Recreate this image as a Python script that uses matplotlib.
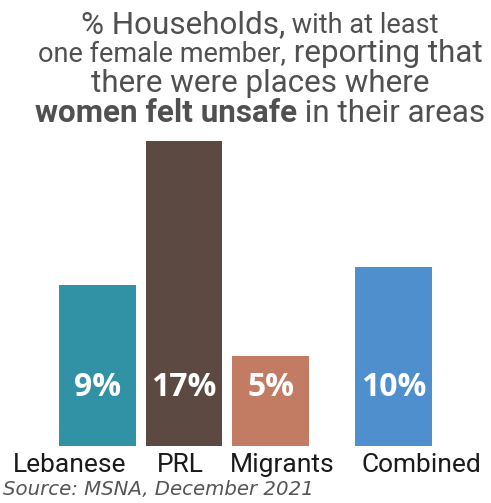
import matplotlib
matplotlib.use("Agg")
import matplotlib.pyplot as plt

categories = ["Lebanese", "PRL", "Migrants", "Combined"]
values = [9, 17, 5, 10]
value_labels = ["9%", "17%", "5%", "10%"]
colors = ["#3191A5", "#5C4A42", "#C27C63", "#4F8FCD"]
source_text = "Source: MSNA, December 2021"

# layout (not data)
bar_x = [0, 1, 2, 3.42]
label_x = [-0.319, 0.954, 2.133, 3.74]
W, H = 491, 503
fig = plt.figure(figsize=(W / 100, H / 100), dpi=100)
unit_px = 86.5
left_px = 97.5
ax_bottom_px = 446
ax_top_px = 135
ax = fig.add_axes([0, (H - ax_bottom_px) / H, 1, (ax_bottom_px - ax_top_px) / H])
ax.set_xlim(-left_px / unit_px, (W - left_px) / unit_px)
ypx = 305 / 17.0
ax.set_ylim(0, (ax_bottom_px - ax_top_px) / ypx)
ax.axis("off")

ax.bar(bar_x, values, width=0.89, color=colors)
for x, lab in zip(bar_x, value_labels):
    ax.text(x, 58 / ypx, lab, ha="center", va="center", color="white",
            fontsize=23, fontweight="bold", family="Open Sans")

for lx, cat in zip(label_x, categories):
    ax.text(lx, -26 / ypx, cat, ha="center", va="baseline", color="#1a1a1a",
            fontsize=19, family="Roboto", clip_on=False)

fig.text(3 / W, 1 - 495 / H, source_text, ha="left", va="baseline",
         color="#555555", fontsize=14.2, style="italic", family="DejaVu Sans")

# Title with mixed sizes
title_color = "#505050"
big, small = 22.6, 19.5
lines = [
    ([("% Households,", big, "normal"), (" with at least", small, "normal")], 33),
    ([("one female member,", small, "normal"), (" reporting that", big, "normal")], 62),
    ([("there were places where", big, "normal")], 92),
    ([("women felt unsafe", big, "bold"), (" in their areas", big, "normal")], 122),
]
renderer = fig.canvas.get_renderer()
center_px = 260
for parts, base in lines:
    texts = []
    total = 0
    for s, fs, fw in parts:
        t = fig.text(0, 1 - base / H, s, fontsize=fs, fontweight=fw, family="Roboto",
                     color=title_color, ha="left", va="baseline")
        w = t.get_window_extent(renderer).width
        texts.append((t, w))
        total += w
    x = center_px - total / 2
    for t, w in texts:
        t.set_x(x / W)
        x += w

fig.savefig("out.png", dpi=100)
